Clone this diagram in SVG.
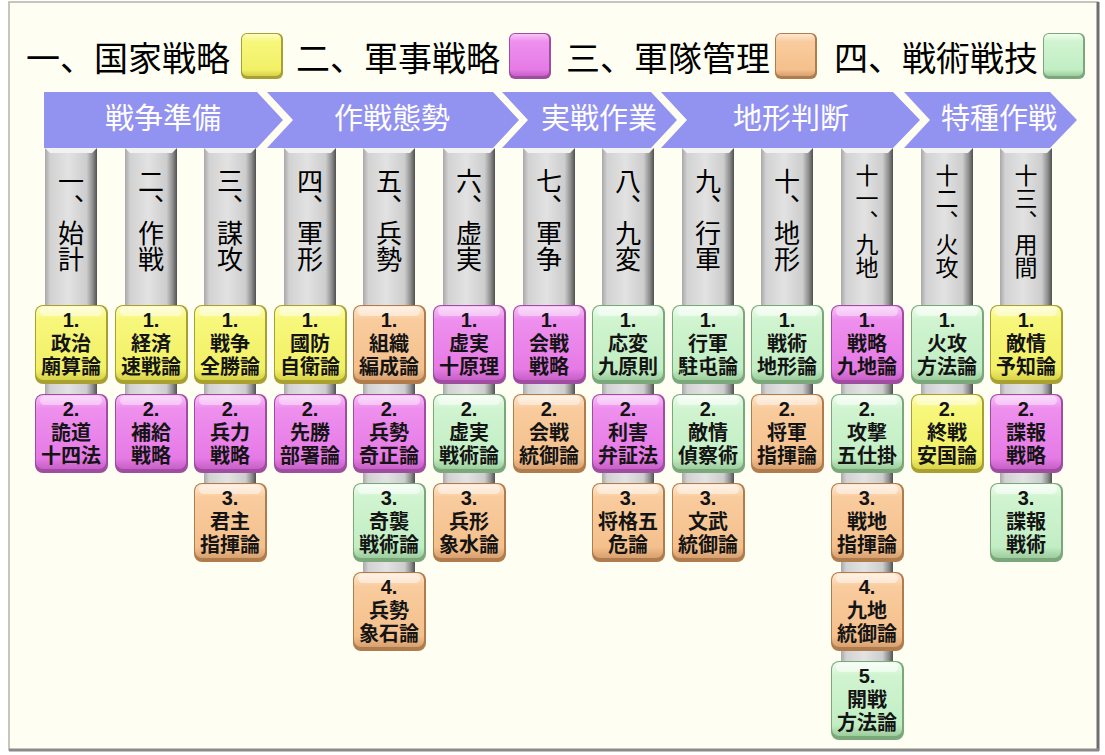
<svg xmlns="http://www.w3.org/2000/svg" xmlns:xlink="http://www.w3.org/1999/xlink" width="1105" height="755" viewBox="0 0 1105 755">
<style>
.lg{font-family:"Noto Sans CJK JP","Noto Sans CJK SC",sans-serif;font-size:34px;fill:#000}
.ch{fill:#9292f0}
.ct{font-family:"Noto Sans CJK JP","Noto Sans CJK SC",sans-serif;font-size:29px;fill:#fff;text-anchor:middle}
.bar{fill:url(#gGray)}
.bev{fill:#f2f2f2}
.h4{font-family:"Noto Sans CJK JP","Noto Sans CJK SC",sans-serif;font-size:26px;fill:#000;writing-mode:vertical-rl}
.h5{font-family:"Noto Sans CJK JP","Noto Sans CJK SC",sans-serif;font-size:23px;fill:#000;writing-mode:vertical-rl}
.bt{font-family:"Liberation Sans","Noto Sans CJK JP","Noto Sans CJK SC",sans-serif;font-size:20px;font-weight:bold;fill:#141414;text-anchor:middle}
</style>
<defs>
<linearGradient id="gGray" x1="0" y1="0" x2="1" y2="0">
<stop offset="0" stop-color="#a8a8a8"/><stop offset="0.1" stop-color="#d2d2d2"/><stop offset="0.45" stop-color="#e2e2e2"/><stop offset="0.8" stop-color="#cdcdcd"/><stop offset="0.92" stop-color="#8c8c8c"/><stop offset="1" stop-color="#505050"/>
</linearGradient>
<linearGradient id="gY" x1="0" y1="0" x2="0" y2="1"><stop offset="0" stop-color="#fdfdc0"/><stop offset="0.18" stop-color="#f7f77c"/><stop offset="0.85" stop-color="#f2f066"/><stop offset="1" stop-color="#d6d24a"/></linearGradient>
<linearGradient id="gP" x1="0" y1="0" x2="0" y2="1"><stop offset="0" stop-color="#f8c4f8"/><stop offset="0.18" stop-color="#ee90ee"/><stop offset="0.85" stop-color="#e67ae6"/><stop offset="1" stop-color="#c660c6"/></linearGradient>
<linearGradient id="gO" x1="0" y1="0" x2="0" y2="1"><stop offset="0" stop-color="#fee8d2"/><stop offset="0.18" stop-color="#f9cc9e"/><stop offset="0.85" stop-color="#f4c08c"/><stop offset="1" stop-color="#d8a070"/></linearGradient>
<linearGradient id="gG" x1="0" y1="0" x2="0" y2="1"><stop offset="0" stop-color="#f0fdf0"/><stop offset="0.18" stop-color="#d0f4d0"/><stop offset="0.85" stop-color="#c2eec4"/><stop offset="1" stop-color="#9ccc9c"/></linearGradient>
<g id="bY"><rect width="73" height="79" rx="8" fill="#a8a030"/><rect x="1" y="1" width="70" height="74" rx="7" fill="url(#gY)"/><rect x="5" y="2" width="62" height="9" rx="4.5" fill="#fff" opacity="0.45"/></g>
<g id="bP"><rect width="73" height="79" rx="8" fill="#a04ca0"/><rect x="1" y="1" width="70" height="74" rx="7" fill="url(#gP)"/><rect x="5" y="2" width="62" height="9" rx="4.5" fill="#fff" opacity="0.4"/></g>
<g id="bO"><rect width="73" height="79" rx="8" fill="#b07c4c"/><rect x="1" y="1" width="70" height="74" rx="7" fill="url(#gO)"/><rect x="5" y="2" width="62" height="9" rx="4.5" fill="#fff" opacity="0.45"/></g>
<g id="bG"><rect width="73" height="79" rx="8" fill="#7aa87a"/><rect x="1" y="1" width="70" height="74" rx="7" fill="url(#gG)"/><rect x="5" y="2" width="62" height="9" rx="4.5" fill="#fff" opacity="0.5"/></g>
<g id="lsY"><rect width="42" height="46" rx="6" fill="#a8a030"/><rect x="1" y="1" width="39" height="42" rx="5" fill="url(#gY)"/></g>
<g id="lsP"><rect width="42" height="46" rx="6" fill="#a04ca0"/><rect x="1" y="1" width="39" height="42" rx="5" fill="url(#gP)"/></g>
<g id="lsO"><rect width="42" height="46" rx="6" fill="#b07c4c"/><rect x="1" y="1" width="39" height="42" rx="5" fill="url(#gO)"/></g>
<g id="lsG"><rect width="42" height="46" rx="6" fill="#7aa87a"/><rect x="1" y="1" width="39" height="42" rx="5" fill="url(#gG)"/></g>
</defs>

<rect x="0" y="0" width="1105" height="755" fill="#ffffff"/>
<g id="frame">
<rect x="9" y="2" width="1089" height="748" fill="#fefef3" stroke="#b4b4a8" stroke-width="1.5"/>
<line x1="1098" y1="2" x2="1098" y2="751" stroke="#6e6e6e" stroke-width="3"/>
<line x1="9" y1="750" x2="1099" y2="750" stroke="#8a8a8a" stroke-width="3"/>
</g>

<g id="legend">
<text class="lg" x="26" y="71">一、国家戦略</text><use xlink:href="#lsY" x="241" y="33"/>
<text class="lg" x="296" y="71">二、軍事戦略</text><use xlink:href="#lsP" x="509" y="33"/>
<text class="lg" x="566" y="71">三、軍隊管理</text><use xlink:href="#lsO" x="775" y="33"/>
<text class="lg" x="834" y="71">四、戦術戦技</text><use xlink:href="#lsG" x="1043" y="33"/>
</g>

<g id="phases">
<g id="ph1"><polygon class="ch" points="44,92 257,92 283,120 257,148 44,148"/><text class="ct" x="163" y="129">戦争準備</text></g>
<g id="ph2"><polygon class="ch" points="267,92 493,92 519,120 493,148 267,148 293,120"/><text class="ct" x="392" y="129">作戦態勢</text></g>
<g id="ph3"><polygon class="ch" points="502,92 651,92 677,120 651,148 502,148 528,120"/><text class="ct" x="599" y="129">実戦作業</text></g>
<g id="ph4"><polygon class="ch" points="661,92 893,92 920,120 893,148 661,148 687,120"/><text class="ct" x="791" y="129">地形判断</text></g>
<g id="ph5"><polygon class="ch" points="904,92 1050,92 1077,120 1050,148 904,148 930,120"/><text class="ct" x="999" y="129">特種作戦</text></g>
</g>

<g id="connectors">
<rect class="bar" x="45" y="148" width="52" height="276"/>
<rect class="bar" x="125" y="148" width="52" height="276"/>
<rect class="bar" x="204" y="148" width="52" height="365"/>
<rect class="bar" x="284" y="148" width="52" height="276"/>
<rect class="bar" x="363" y="148" width="52" height="454"/>
<rect class="bar" x="443" y="148" width="52" height="365"/>
<rect class="bar" x="523" y="148" width="52" height="276"/>
<rect class="bar" x="602" y="148" width="52" height="365"/>
<rect class="bar" x="682" y="148" width="52" height="365"/>
<rect class="bar" x="761" y="148" width="52" height="276"/>
<rect class="bar" x="841" y="148" width="52" height="543"/>
<rect class="bar" x="921" y="148" width="52" height="276"/>
<rect class="bar" x="1000" y="148" width="52" height="365"/>
</g>

<g id="c1">
<path class="bev" d="M45 148h52l-5 5h-42z"/>
<text class="h4" x="71" y="168">一、始計</text>
<g id="c1-1"><use xlink:href="#bY" x="35" y="305"/><text class="bt"><tspan x="71" y="327">1.</tspan><tspan x="71" y="351">政治</tspan><tspan x="71" y="374">廟算論</tspan></text></g>
<g id="c1-2"><use xlink:href="#bP" x="35" y="394"/><text class="bt"><tspan x="71" y="416">2.</tspan><tspan x="71" y="440">詭道</tspan><tspan x="71" y="463">十四法</tspan></text></g>
</g>

<g id="c2">
<path class="bev" d="M125 148h52l-5 5h-42z"/>
<text class="h4" x="151" y="168">二、作戦</text>
<g id="c2-1"><use xlink:href="#bY" x="115" y="305"/><text class="bt"><tspan x="151" y="327">1.</tspan><tspan x="151" y="351">経済</tspan><tspan x="151" y="374">速戦論</tspan></text></g>
<g id="c2-2"><use xlink:href="#bP" x="115" y="394"/><text class="bt"><tspan x="151" y="416">2.</tspan><tspan x="151" y="440">補給</tspan><tspan x="151" y="463">戦略</tspan></text></g>
</g>

<g id="c3">
<path class="bev" d="M204 148h52l-5 5h-42z"/>
<text class="h4" x="230" y="168">三、謀攻</text>
<g id="c3-1"><use xlink:href="#bY" x="194" y="305"/><text class="bt"><tspan x="230" y="327">1.</tspan><tspan x="230" y="351">戦争</tspan><tspan x="230" y="374">全勝論</tspan></text></g>
<g id="c3-2"><use xlink:href="#bP" x="194" y="394"/><text class="bt"><tspan x="230" y="416">2.</tspan><tspan x="230" y="440">兵力</tspan><tspan x="230" y="463">戦略</tspan></text></g>
<g id="c3-3"><use xlink:href="#bO" x="194" y="483"/><text class="bt"><tspan x="230" y="505">3.</tspan><tspan x="230" y="529">君主</tspan><tspan x="230" y="552">指揮論</tspan></text></g>
</g>

<g id="c4">
<path class="bev" d="M284 148h52l-5 5h-42z"/>
<text class="h4" x="310" y="168">四、軍形</text>
<g id="c4-1"><use xlink:href="#bY" x="274" y="305"/><text class="bt"><tspan x="310" y="327">1.</tspan><tspan x="310" y="351">國防</tspan><tspan x="310" y="374">自衛論</tspan></text></g>
<g id="c4-2"><use xlink:href="#bP" x="274" y="394"/><text class="bt"><tspan x="310" y="416">2.</tspan><tspan x="310" y="440">先勝</tspan><tspan x="310" y="463">部署論</tspan></text></g>
</g>

<g id="c5">
<path class="bev" d="M363 148h52l-5 5h-42z"/>
<text class="h4" x="389" y="168">五、兵勢</text>
<g id="c5-1"><use xlink:href="#bO" x="353" y="305"/><text class="bt"><tspan x="389" y="327">1.</tspan><tspan x="389" y="351">組織</tspan><tspan x="389" y="374">編成論</tspan></text></g>
<g id="c5-2"><use xlink:href="#bP" x="353" y="394"/><text class="bt"><tspan x="389" y="416">2.</tspan><tspan x="389" y="440">兵勢</tspan><tspan x="389" y="463">奇正論</tspan></text></g>
<g id="c5-3"><use xlink:href="#bG" x="353" y="483"/><text class="bt"><tspan x="389" y="505">3.</tspan><tspan x="389" y="529">奇襲</tspan><tspan x="389" y="552">戦術論</tspan></text></g>
<g id="c5-4"><use xlink:href="#bO" x="353" y="572"/><text class="bt"><tspan x="389" y="594">4.</tspan><tspan x="389" y="618">兵勢</tspan><tspan x="389" y="641">象石論</tspan></text></g>
</g>

<g id="c6">
<path class="bev" d="M443 148h52l-5 5h-42z"/>
<text class="h4" x="469" y="168">六、虚実</text>
<g id="c6-1"><use xlink:href="#bP" x="433" y="305"/><text class="bt"><tspan x="469" y="327">1.</tspan><tspan x="469" y="351">虚実</tspan><tspan x="469" y="374">十原理</tspan></text></g>
<g id="c6-2"><use xlink:href="#bG" x="433" y="394"/><text class="bt"><tspan x="469" y="416">2.</tspan><tspan x="469" y="440">虚実</tspan><tspan x="469" y="463">戦術論</tspan></text></g>
<g id="c6-3"><use xlink:href="#bO" x="433" y="483"/><text class="bt"><tspan x="469" y="505">3.</tspan><tspan x="469" y="529">兵形</tspan><tspan x="469" y="552">象水論</tspan></text></g>
</g>

<g id="c7">
<path class="bev" d="M523 148h52l-5 5h-42z"/>
<text class="h4" x="549" y="168">七、軍争</text>
<g id="c7-1"><use xlink:href="#bP" x="513" y="305"/><text class="bt"><tspan x="549" y="327">1.</tspan><tspan x="549" y="351">会戦</tspan><tspan x="549" y="374">戦略</tspan></text></g>
<g id="c7-2"><use xlink:href="#bO" x="513" y="394"/><text class="bt"><tspan x="549" y="416">2.</tspan><tspan x="549" y="440">会戦</tspan><tspan x="549" y="463">統御論</tspan></text></g>
</g>

<g id="c8">
<path class="bev" d="M602 148h52l-5 5h-42z"/>
<text class="h4" x="628" y="168">八、九変</text>
<g id="c8-1"><use xlink:href="#bG" x="592" y="305"/><text class="bt"><tspan x="628" y="327">1.</tspan><tspan x="628" y="351">応変</tspan><tspan x="628" y="374">九原則</tspan></text></g>
<g id="c8-2"><use xlink:href="#bP" x="592" y="394"/><text class="bt"><tspan x="628" y="416">2.</tspan><tspan x="628" y="440">利害</tspan><tspan x="628" y="463">弁証法</tspan></text></g>
<g id="c8-3"><use xlink:href="#bO" x="592" y="483"/><text class="bt"><tspan x="628" y="505">3.</tspan><tspan x="628" y="529">将格五</tspan><tspan x="628" y="552">危論</tspan></text></g>
</g>

<g id="c9">
<path class="bev" d="M682 148h52l-5 5h-42z"/>
<text class="h4" x="708" y="168">九、行軍</text>
<g id="c9-1"><use xlink:href="#bG" x="672" y="305"/><text class="bt"><tspan x="708" y="327">1.</tspan><tspan x="708" y="351">行軍</tspan><tspan x="708" y="374">駐屯論</tspan></text></g>
<g id="c9-2"><use xlink:href="#bG" x="672" y="394"/><text class="bt"><tspan x="708" y="416">2.</tspan><tspan x="708" y="440">敵情</tspan><tspan x="708" y="463">偵察術</tspan></text></g>
<g id="c9-3"><use xlink:href="#bO" x="672" y="483"/><text class="bt"><tspan x="708" y="505">3.</tspan><tspan x="708" y="529">文武</tspan><tspan x="708" y="552">統御論</tspan></text></g>
</g>

<g id="c10">
<path class="bev" d="M761 148h52l-5 5h-42z"/>
<text class="h4" x="787" y="168">十、地形</text>
<g id="c10-1"><use xlink:href="#bG" x="751" y="305"/><text class="bt"><tspan x="787" y="327">1.</tspan><tspan x="787" y="351">戦術</tspan><tspan x="787" y="374">地形論</tspan></text></g>
<g id="c10-2"><use xlink:href="#bO" x="751" y="394"/><text class="bt"><tspan x="787" y="416">2.</tspan><tspan x="787" y="440">将軍</tspan><tspan x="787" y="463">指揮論</tspan></text></g>
</g>

<g id="c11">
<path class="bev" d="M841 148h52l-5 5h-42z"/>
<text class="h5" x="867" y="164">十一、九地</text>
<g id="c11-1"><use xlink:href="#bP" x="831" y="305"/><text class="bt"><tspan x="867" y="327">1.</tspan><tspan x="867" y="351">戦略</tspan><tspan x="867" y="374">九地論</tspan></text></g>
<g id="c11-2"><use xlink:href="#bG" x="831" y="394"/><text class="bt"><tspan x="867" y="416">2.</tspan><tspan x="867" y="440">攻撃</tspan><tspan x="867" y="463">五仕掛</tspan></text></g>
<g id="c11-3"><use xlink:href="#bO" x="831" y="483"/><text class="bt"><tspan x="867" y="505">3.</tspan><tspan x="867" y="529">戦地</tspan><tspan x="867" y="552">指揮論</tspan></text></g>
<g id="c11-4"><use xlink:href="#bO" x="831" y="572"/><text class="bt"><tspan x="867" y="594">4.</tspan><tspan x="867" y="618">九地</tspan><tspan x="867" y="641">統御論</tspan></text></g>
<g id="c11-5"><use xlink:href="#bG" x="831" y="661"/><text class="bt"><tspan x="867" y="683">5.</tspan><tspan x="867" y="707">開戦</tspan><tspan x="867" y="730">方法論</tspan></text></g>
</g>

<g id="c12">
<path class="bev" d="M921 148h52l-5 5h-42z"/>
<text class="h5" x="947" y="164">十二、火攻</text>
<g id="c12-1"><use xlink:href="#bG" x="911" y="305"/><text class="bt"><tspan x="947" y="327">1.</tspan><tspan x="947" y="351">火攻</tspan><tspan x="947" y="374">方法論</tspan></text></g>
<g id="c12-2"><use xlink:href="#bY" x="911" y="394"/><text class="bt"><tspan x="947" y="416">2.</tspan><tspan x="947" y="440">終戦</tspan><tspan x="947" y="463">安国論</tspan></text></g>
</g>

<g id="c13">
<path class="bev" d="M1000 148h52l-5 5h-42z"/>
<text class="h5" x="1026" y="164">十三、用間</text>
<g id="c13-1"><use xlink:href="#bY" x="990" y="305"/><text class="bt"><tspan x="1026" y="327">1.</tspan><tspan x="1026" y="351">敵情</tspan><tspan x="1026" y="374">予知論</tspan></text></g>
<g id="c13-2"><use xlink:href="#bP" x="990" y="394"/><text class="bt"><tspan x="1026" y="416">2.</tspan><tspan x="1026" y="440">諜報</tspan><tspan x="1026" y="463">戦略</tspan></text></g>
<g id="c13-3"><use xlink:href="#bG" x="990" y="483"/><text class="bt"><tspan x="1026" y="505">3.</tspan><tspan x="1026" y="529">諜報</tspan><tspan x="1026" y="552">戦術</tspan></text></g>
</g>
</svg>
